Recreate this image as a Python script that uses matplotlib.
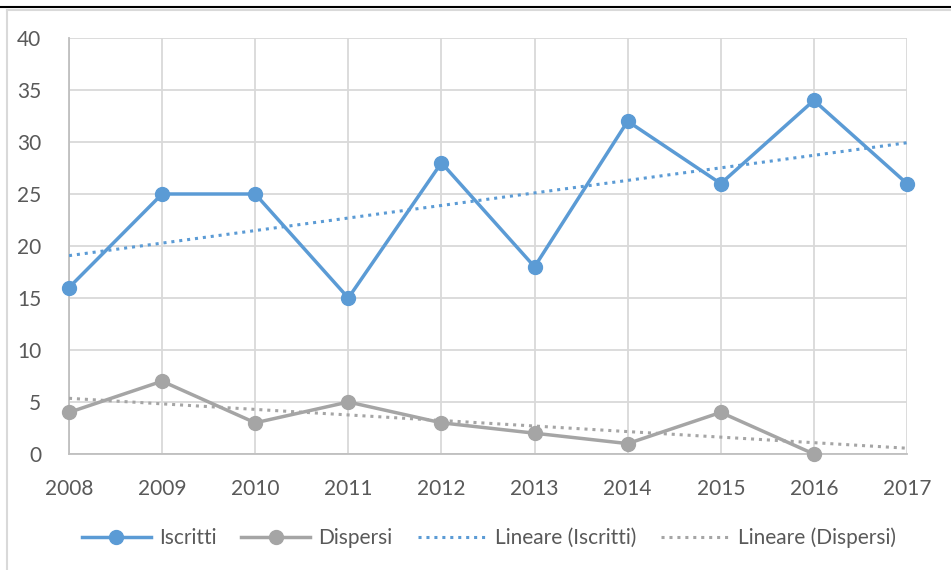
import numpy as np
import matplotlib.pyplot as plt
from matplotlib.lines import Line2D

# Data
years = ['2008', '2009', '2010', '2011', '2012', '2013', '2014', '2015', '2016', '2017']
iscritti = [16, 25, 25, 15, 28, 18, 32, 26, 34, 26]
dispersi = [4, 7, 3, 5, 3, 2, 1, 4, 0]  # no value for 2017

BLUE = '#5B9BD5'
GRAY = '#A5A5A5'
TEXT = '#595959'
GRID = '#D9D9D9'

plt.rcParams['font.family'] = ['Lato', 'DejaVu Sans']

fig = plt.figure(figsize=(9.51, 5.70), dpi=100)
ax = fig.add_axes([69 / 951, 1 - 454 / 570, (907 - 69) / 951, (454 - 38) / 570])

x_all = np.arange(len(years))
x_isc = np.arange(len(iscritti))
x_dis = np.arange(len(dispersi))

# linear trendlines (Excel "Lineare")
p_isc = np.polyfit(x_isc, iscritti, 1)
p_dis = np.polyfit(x_dis, dispersi, 1)

ax.plot(x_all, np.polyval(p_isc, x_all), color=BLUE, lw=2.2, ls=(0, (1, 1.6)), zorder=3)
ax.plot(x_all, np.polyval(p_dis, x_all), color=GRAY, lw=2.2, ls=(0, (1, 1.6)), zorder=3)

ax.plot(x_isc, iscritti, color=BLUE, lw=2.5, marker='o', ms=10, zorder=4, clip_on=False)
ax.plot(x_dis, dispersi, color=GRAY, lw=2.5, marker='o', ms=10, zorder=4, clip_on=False)

ax.set_xlim(0, len(years) - 1)
ax.set_ylim(0, 40)
ax.set_xticks(x_all)
ax.set_xticklabels(years)
ax.set_yticks(range(0, 41, 5))
ax.grid(True, color=GRID, lw=1.3)
ax.set_axisbelow(True)
ax.tick_params(length=0, labelsize=15, colors=TEXT, pad=18)
ax.tick_params(axis='y', pad=20)
for s in ['top', 'right']:
    ax.spines[s].set_visible(False)
for s in ['left', 'bottom']:
    ax.spines[s].set_color('#BFBFBF')
    ax.spines[s].set_linewidth(1.3)

handles = [
    Line2D([], [], color=BLUE, lw=2.5, marker='o', ms=10),
    Line2D([], [], color=GRAY, lw=2.5, marker='o', ms=10),
    Line2D([], [], color=BLUE, lw=2.2, ls=(0, (1, 1.6))),
    Line2D([], [], color=GRAY, lw=2.2, ls=(0, (1, 1.6))),
]
labels = ['Iscritti', 'Dispersi', 'Lineare (Iscritti)', 'Lineare (Dispersi)']
leg = fig.legend(handles, labels, loc='center', bbox_to_anchor=(489 / 951, 1 - 538 / 570),
                 ncol=4, frameon=False, fontsize=15, handlelength=3.3,
                 columnspacing=1.2, handletextpad=0.4)
for t in leg.get_texts():
    t.set_color(TEXT)

# chart frame
fig.add_artist(Line2D([0, 1], [1 - 7 / 570, 1 - 7 / 570], color='black', lw=1.5))
fig.add_artist(Line2D([7 / 951, 7 / 951], [0, 1 - 10 / 570], color=GRID, lw=1.5))
fig.add_artist(Line2D([7 / 951, 1], [1 - 10 / 570, 1 - 10 / 570], color=GRID, lw=1.5))

fig.savefig('out.png', dpi=100)
